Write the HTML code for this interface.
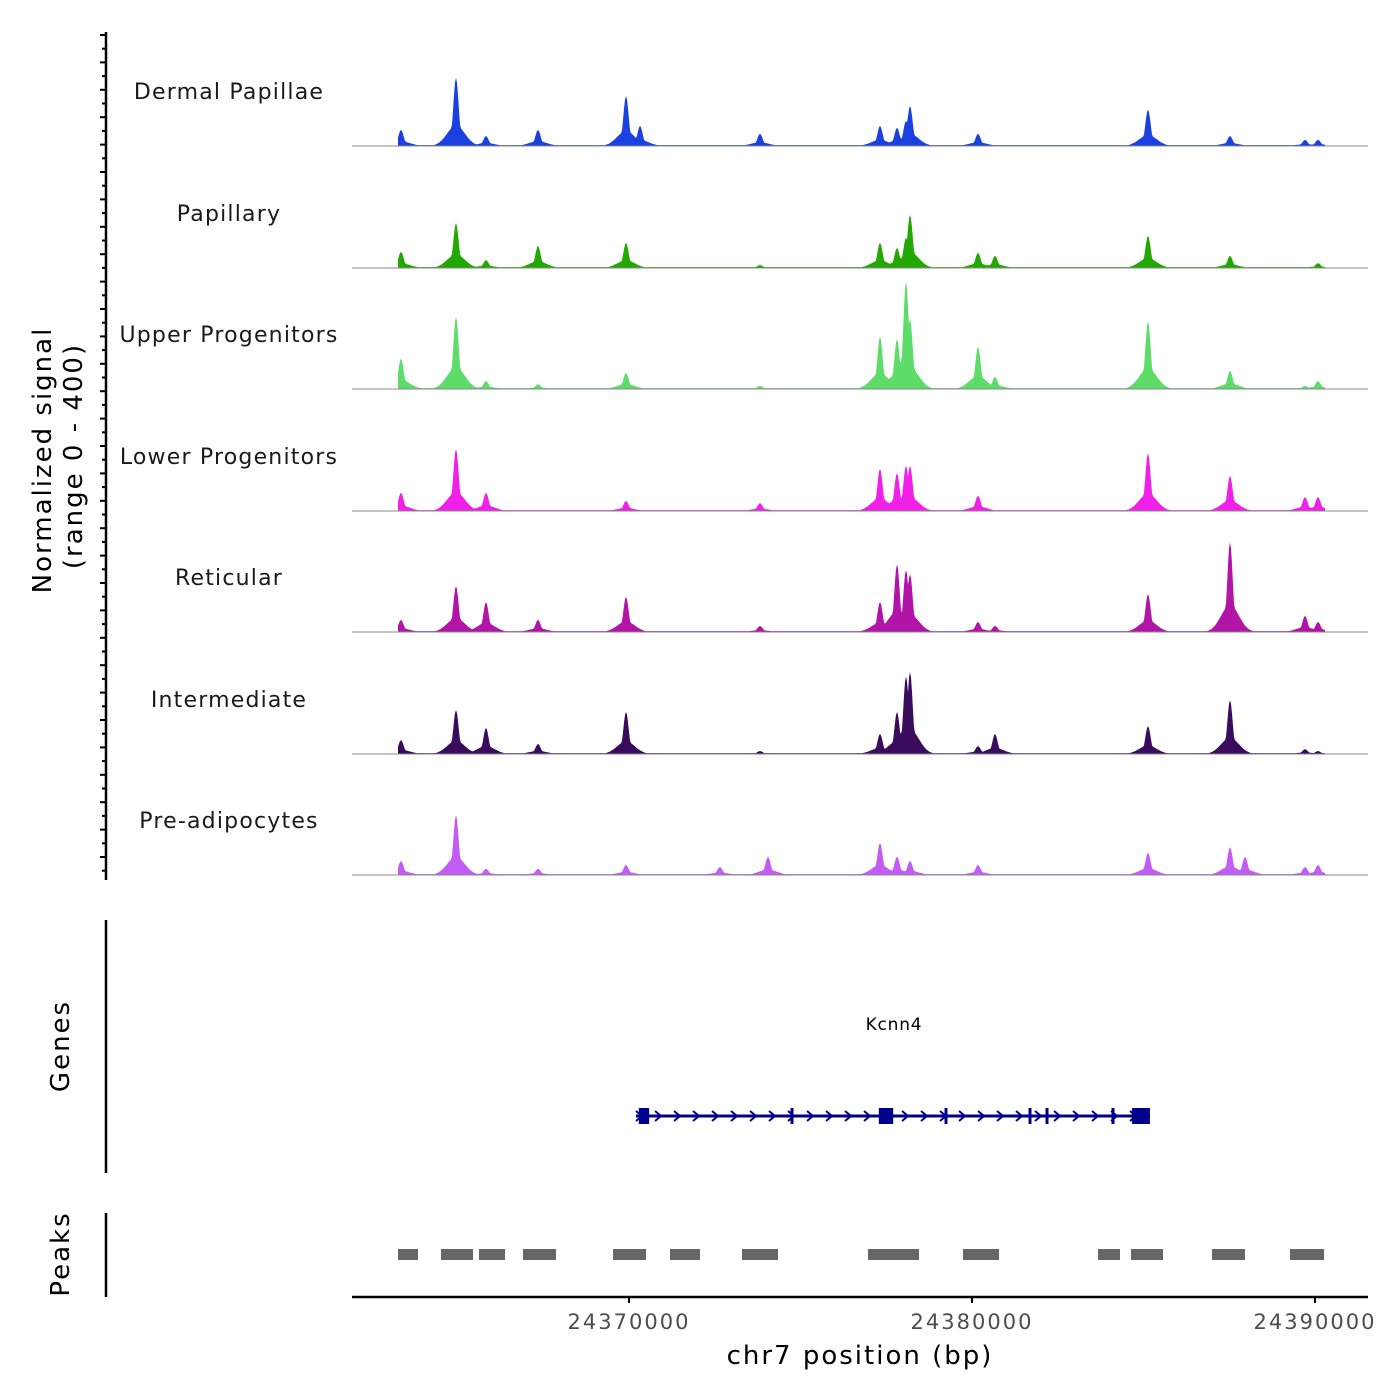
<!DOCTYPE html>
<html><head><meta charset="utf-8"><style>
body{margin:0;background:#fff}
svg{display:block;font-family:"DejaVu Sans","Liberation Sans",sans-serif}
</style></head><body>
<svg id="chart" width="1400" height="1400" viewBox="0 0 1400 1400" xmlns="http://www.w3.org/2000/svg">
<rect width="1400" height="1400" fill="#fff"/>
<g id="tracks"></g>
<g id="left"></g>
<g id="genes"></g>
<g id="peaks"></g>
<g id="xaxis"></g>
</svg>
<script>
const trackNames = ["Dermal Papillae","Papillary","Upper Progenitors","Lower Progenitors","Reticular","Intermediate","Pre-adipocytes"];
const trackColors = ["#1a40e0","#22a800","#5ddc6a","#f020e8","#b314a8","#3a0a5c","#c25cf5"];
const peakPos = [24363353,24364956,24365831,24367347,24369913,24370321,24372650,24373819,24374052,24377318,24377814,24378076,24378193,24380175,24380671,24385131,24387522,24387960,24389709,24390088];
// signal heights (range 0-400) for each track at peakPos
const sigDP  = [53,225,33,53,165,66,0,40,0,66,60,83,132,40,0,120,33,0,20,20];
const sigPap = [53,148,26,73,83,0,0,10,0,83,66,100,175,50,40,106,40,0,0,16];
const sigUP  = [100,238,26,16,53,0,0,10,0,172,165,356,231,139,40,224,60,0,10,26];
const sigLP  = [60,205,60,0,33,0,0,26,0,139,125,149,149,50,0,191,116,0,46,46];
const sigRet = [40,152,99,40,116,0,0,20,0,99,224,205,191,33,20,125,297,0,53,33];
const sigInt = [46,145,86,33,139,0,0,10,0,66,139,257,271,26,66,92,178,0,16,10];
const sigPre = [46,198,20,20,33,0,26,10,60,106,60,0,46,33,0,73,92,60,26,33];
const signals = [sigDP,sigPap,sigUP,sigLP,sigRet,sigInt,sigPre];
const peakStarts = [24363265,24364519,24365627,24366910,24369534,24371195,24373294,24376968,24379738,24383674,24384636,24386997,24389271];
const peakEnds   = [24363848,24365452,24366385,24367872,24370496,24372070,24374344,24378455,24380787,24384315,24385569,24387959,24390263];
const geneStart = 24370204, geneEnd = 24385190;
const exonPos = [24370437,24377493,24384927];
const exonWidth = [300,420,520];
const intronTicks = [24374752,24379242,24381691,24382187,24384111];
const xTicks = [24370000,24380000,24390000];

const NS="http://www.w3.org/2000/svg";
function el(tag,attrs,parent,text){const e=document.createElementNS(NS,tag);for(const k in attrs)e.setAttribute(k,attrs[k]);if(text!==undefined)e.textContent=text;parent.appendChild(e);return e;}
const X0=24361924, X1=24391545, PX0=352, PX1=1368;
const xs=v=>PX0+(v-X0)/(X1-X0)*(PX1-PX0);
const baselines=[146,268,389,511,632,754,875];
const ys=v=>v/400*121;

const tg=document.getElementById('tracks');
signals.forEach((sig,ti)=>{
  const b=baselines[ti];
  const g=el('g',{},tg);
  
  
  let d='M398,'+b;
  for(let px=398;px<=1325;px+=1){
    let v=3;
    peakPos.forEach((p,i)=>{const c=xs(p);const dx=px-c;
      v=Math.max(v,sig[i]*Math.exp(-(dx*dx)/14),sig[i]*0.3*Math.exp(-(dx*dx)/160));});
    d+=' L'+px+','+(b-ys(v)).toFixed(1);
  }
  d+=' L1325,'+b+' Z';
  const p=el('path',{d:d,fill:trackColors[ti]},g);
  
  
  const ln=el('line',{x1:352,x2:1368,y1:b,y2:b,stroke:'#888','stroke-width':1},g);
  
  
  const t=el('text',{x:229,y:b-47,'text-anchor':'middle','font-size':22,fill:'#1a1a1a','letter-spacing':'1.2'},g,trackNames[ti]);
  
  
});

const lg=document.getElementById('left');
let a=el('line',{x1:106,x2:106,y1:32,y2:880,stroke:'#000','stroke-width':2.5},lg);

for(let y=35,k=0;y<=878;y+=13.7,k++){el('line',{x1:k%2?102:100,x2:106,y1:y,y2:y,stroke:'#000','stroke-width':2},lg);}
let yt=el('text',{transform:'translate(51,460) rotate(-90)','text-anchor':'middle','font-size':26,fill:'#000','letter-spacing':'2'},lg,'Normalized signal');

let yt2=el('text',{transform:'translate(82,456) rotate(-90)','text-anchor':'middle','font-size':26,fill:'#000','letter-spacing':'2'},lg,'(range 0 - 400)');


const gg=document.getElementById('genes');
a=el('line',{x1:106,x2:106,y1:920,y2:1173,stroke:'#000','stroke-width':2.5},gg);

let gt=el('text',{transform:'translate(69,1046) rotate(-90)','text-anchor':'middle','font-size':26,'letter-spacing':'2'},gg,'Genes');

const gy=1116;
let gl=el('line',{x1:xs(geneStart),x2:xs(geneEnd),y1:gy,y2:gy,stroke:'#00008b','stroke-width':3},gg);

for(let x=xs(geneStart)+3;x<xs(geneEnd)-10;x+=19){
  el('path',{d:`M${x-3},${gy-5} L${x+3},${gy} L${x-3},${gy+5}`,fill:'none',stroke:'#00008b','stroke-width':2},gg);
}
intronTicks.forEach(p=>{const t=el('rect',{x:xs(p)-1.5,y:gy-8,width:3,height:16,fill:'#00008b'},gg);
  });
exonPos.forEach((p,i)=>{const w=exonWidth[i]/(X1-X0)*(PX1-PX0);
  const r=el('rect',{x:xs(p)-w/2,y:gy-8,width:w,height:16,fill:'#00008b'},gg);
  });
let gn=el('text',{x:894,y:1030,'text-anchor':'middle','font-size':17,'letter-spacing':'0.8'},gg,'Kcnn4');


const pg=document.getElementById('peaks');
a=el('line',{x1:106,x2:106,y1:1213,y2:1297,stroke:'#000','stroke-width':2.5},pg);

let pt=el('text',{transform:'translate(69,1254) rotate(-90)','text-anchor':'middle','font-size':26,'letter-spacing':'2'},pg,'Peaks');

peakStarts.forEach((s,i)=>{const r=el('rect',{x:xs(s),y:1249,width:xs(peakEnds[i])-xs(s),height:11,fill:'#666'},pg);
  });

const xg=document.getElementById('xaxis');
a=el('line',{x1:352,x2:1368,y1:1297,y2:1297,stroke:'#000','stroke-width':2.5},xg);

xTicks.forEach(v=>{el('line',{x1:xs(v),x2:xs(v),y1:1297,y2:1303,stroke:'#000','stroke-width':2},xg);
  const t=el('text',{x:xs(v),y:1329,'text-anchor':'middle','font-size':21,fill:'#4d4d4d','letter-spacing':'2'},xg,String(v));
  });
let xt=el('text',{x:860,y:1364,'text-anchor':'middle','font-size':26,'letter-spacing':'2'},xg,'chr7 position (bp)');

</script>
</body></html>
